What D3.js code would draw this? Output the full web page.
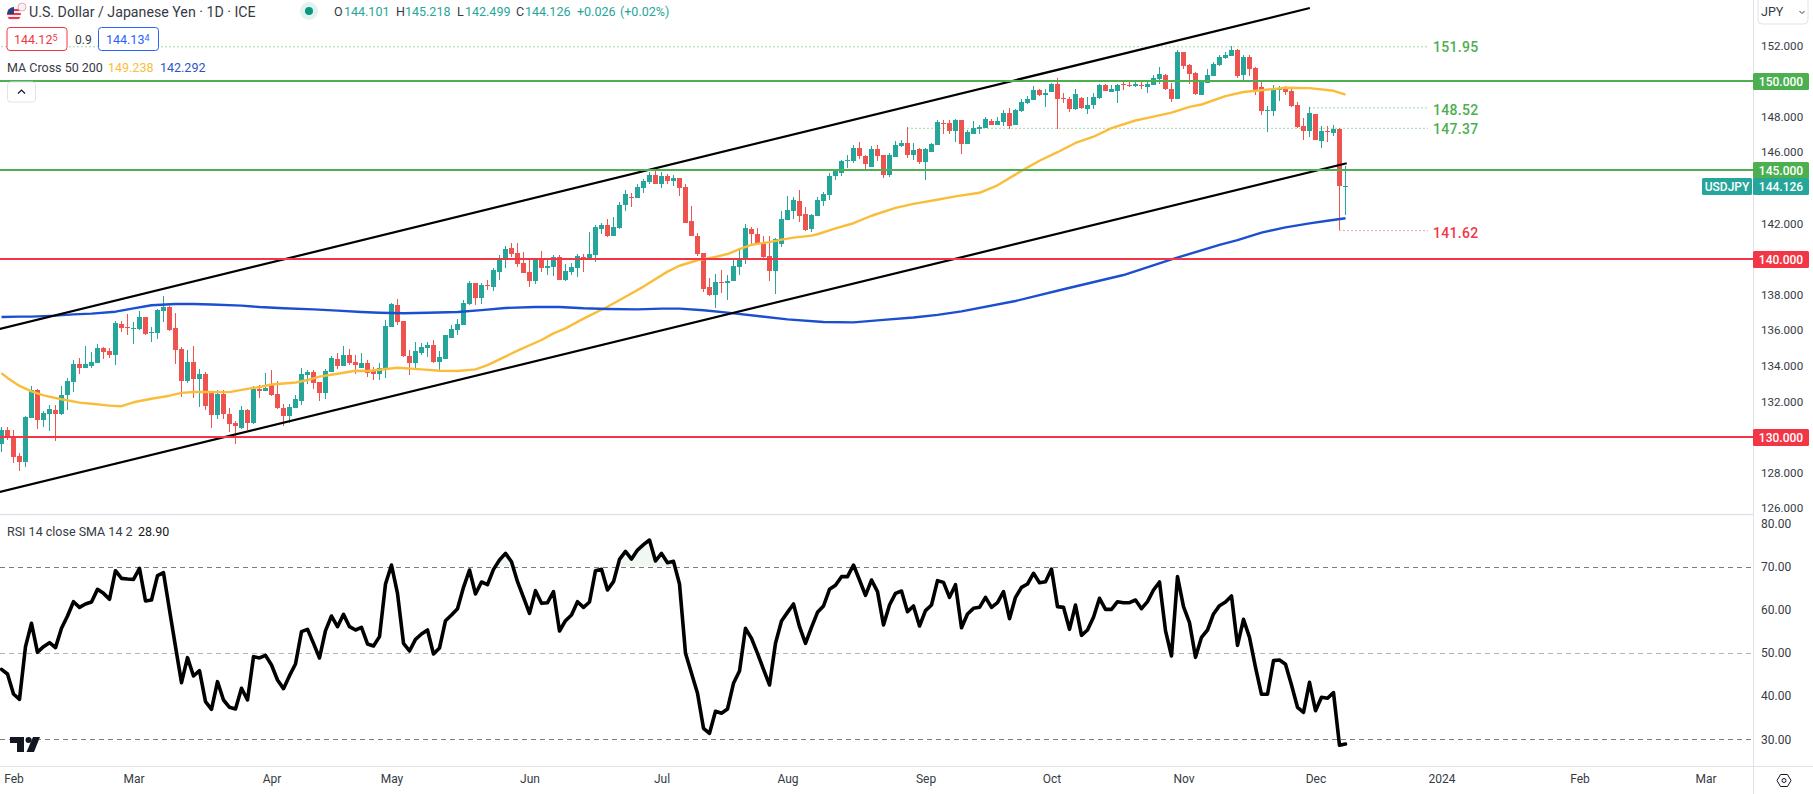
<!DOCTYPE html>
<html>
<head>
<meta charset="utf-8">
<title>USDJPY</title>
<script src="https://cdn.jsdelivr.net/npm/d3@7"></script>
<style>
  html, body { margin: 0; padding: 0; background: #fff; overflow: hidden; }
  text { font-family: Roboto, "Open Sans", sans-serif; }
</style>
</head>
<body>
<script>
// USD/JPY daily candles, one entry per trading bar (bar 1 = 30 Jan 2023, bar 225 = 8 Dec 2023)
var opens = [
129.61,130.39,129.98,128.93,128.60,131.07,132.64,130.96,131.29,131.52,
131.29,132.34,133.09,134.10,133.88,133.99,134.16,135.00,134.83,134.61,
136.35,136.18,136.09,136.07,136.74,135.86,135.84,137.08,137.30,136.13,
134.95,133.15,134.21,133.26,133.54,132.59,131.24,132.42,131.29,130.79,
130.51,131.52,130.79,132.70,132.59,132.92,132.42,131.63,131.18,131.63,
132.02,133.48,133.65,133.09,132.47,133.65,134.38,133.99,134.60,134.21,
133.87,134.16,133.71,133.54,133.82,136.18,137.41,136.52,134.55,134.16,
134.72,135.00,135.17,134.21,134.38,135.56,136.01,136.29,137.47,138.65,
137.81,138.54,138.42,139.27,140.00,140.62,140.33,139.77,139.27,138.76,
140.00,139.49,139.55,140.11,138.82,139.27,139.49,140.11,140.00,140.22,
141.68,141.91,141.29,141.74,143.03,143.48,143.43,143.99,144.32,144.72,
144.21,144.66,144.38,144.55,144.05,142.14,141.29,140.34,138.43,137.98,
138.71,138.65,138.77,139.55,140.00,141.69,141.41,140.90,140.17,139.33,
140.84,142.19,142.70,143.26,142.53,141.69,142.42,143.26,143.60,144.66,
144.83,145.53,145.51,146.24,145.79,145.17,146.18,145.84,144.72,145.73,
146.35,146.52,145.84,146.18,145.45,146.01,146.41,147.64,147.64,147.19,
147.81,146.46,147.02,147.31,147.36,147.75,147.53,147.70,148.20,147.53,
148.31,148.76,148.93,149.49,149.23,149.38,149.83,149.04,148.99,148.42,
149.04,148.42,148.65,149.04,149.77,149.38,149.43,149.81,149.79,149.72,
149.79,149.66,149.77,150.11,150.33,149.55,148.99,151.63,150.90,150.45,
149.21,149.88,150.28,150.90,151.29,151.40,151.74,150.33,151.34,150.73,
149.66,148.33,148.31,149.51,149.55,149.43,148.65,147.47,147.19,148.14,
146.62,147.21,147.08,147.30,144.101];

var highs = [
130.56,130.54,130.39,129.08,131.18,132.87,132.70,131.48,131.80,131.80,
132.87,133.32,134.33,134.44,135.11,134.78,135.23,135.08,135.00,136.52,
136.52,136.91,136.46,137.08,136.76,136.18,137.19,137.92,137.36,136.97,
135.06,134.89,135.11,133.82,133.65,132.61,132.64,132.64,131.63,130.90,
131.74,131.57,132.87,132.92,133.60,133.77,133.15,131.86,131.86,132.36,
133.88,133.77,133.77,133.11,133.82,134.55,134.72,135.11,134.94,134.60,
134.72,134.32,133.93,134.16,136.57,137.53,137.75,136.54,134.89,135.33,
135.28,135.33,135.45,134.83,135.75,136.29,136.63,137.69,138.76,138.67,
138.65,138.82,139.49,140.22,140.73,140.90,140.90,140.39,140.00,140.02,
140.45,140.00,140.22,140.22,139.72,139.77,140.28,140.28,141.51,141.91,
142.02,142.25,142.36,143.20,143.87,143.71,144.21,144.49,144.89,145.05,
144.89,144.77,144.72,144.57,144.22,142.98,141.46,140.36,138.93,139.16,
139.38,139.10,139.95,140.51,141.97,141.80,141.74,141.29,141.29,141.18,
142.70,143.54,143.48,143.88,142.92,142.53,143.48,143.77,144.83,145.06,
145.56,145.84,146.41,146.57,145.84,146.35,146.41,145.86,145.96,146.63,
146.69,147.42,146.52,146.24,146.24,146.52,147.81,147.81,147.81,147.87,
147.83,147.25,147.75,147.53,147.98,147.87,147.98,148.37,148.49,148.43,
148.99,149.15,149.72,149.55,149.55,149.88,150.17,149.32,149.10,149.55,
149.10,149.10,149.32,149.83,149.83,149.77,149.83,149.94,149.94,149.94,
150.00,149.94,150.33,150.78,150.39,149.88,151.74,151.65,150.95,150.50,
150.05,150.67,151.06,151.46,151.63,151.95,151.79,151.46,151.46,150.78,
149.94,148.59,149.77,149.72,149.72,149.66,148.82,147.92,148.54,148.16,
147.47,147.47,147.52,147.37,145.218];

var lows = [
129.16,129.83,128.56,128.11,128.33,131.07,130.45,130.58,130.34,129.78,
131.22,131.52,132.53,133.54,133.88,133.88,134.16,134.38,134.44,134.05,
135.90,135.73,135.23,136.01,135.73,135.34,135.51,136.46,135.96,134.10,
132.25,133.03,132.19,131.69,131.52,130.51,131.01,131.01,130.28,129.61,
130.45,130.39,130.73,132.19,132.59,132.30,131.57,130.62,130.79,131.63,
131.80,132.98,132.70,132.02,132.14,133.65,133.82,133.99,134.04,133.54,
133.87,133.37,133.20,133.20,133.31,136.16,136.29,134.52,133.48,133.87,
134.60,134.49,134.16,133.71,134.36,135.56,135.73,136.29,137.41,137.41,
137.47,138.26,138.20,138.82,139.49,140.11,139.55,139.21,138.42,138.59,
139.27,139.10,139.04,138.82,138.76,139.10,138.99,139.27,140.00,139.83,
141.40,141.23,141.29,141.68,142.69,142.92,143.43,143.71,144.21,144.21,
143.99,144.21,144.10,143.54,142.00,141.28,140.17,138.15,137.92,137.25,
138.09,137.70,138.77,139.10,139.72,140.73,140.79,140.00,138.77,138.04,
140.68,142.19,142.25,142.08,141.57,141.52,142.42,142.98,143.32,144.44,
144.66,145.11,145.40,145.62,144.95,145.17,145.51,144.55,144.61,145.73,
146.29,145.68,145.56,145.34,144.44,146.01,146.41,147.02,147.02,146.57,
145.90,146.46,147.02,147.02,147.36,147.53,147.53,147.47,147.31,147.53,
148.25,148.70,148.93,149.15,148.54,149.38,147.30,148.76,148.25,148.37,
148.42,148.14,148.42,148.99,149.43,149.38,148.76,149.49,149.66,149.66,
149.55,149.32,149.77,149.83,149.49,148.82,148.99,150.67,149.83,149.21,
149.21,149.88,150.28,150.84,151.23,151.40,150.17,150.05,150.28,149.21,
148.09,147.13,148.03,148.87,149.21,148.54,147.36,146.68,146.85,146.66,
146.23,146.57,146.91,141.62,142.499];

var closes = [
130.39,129.96,128.90,128.60,131.13,132.64,130.96,131.35,131.57,131.29,
132.34,133.15,134.10,133.88,134.10,134.21,135.00,134.78,134.61,136.41,
136.13,136.14,136.13,136.74,135.79,135.90,137.14,137.30,136.01,134.89,
133.15,134.21,133.26,133.54,131.74,131.24,132.42,131.29,130.73,130.62,
131.52,130.79,132.70,132.59,132.75,132.36,131.63,131.18,131.69,132.14,
133.54,133.65,133.03,132.47,133.71,134.44,133.99,134.60,134.16,134.04,
134.16,133.59,133.54,133.87,136.23,137.47,136.46,134.55,134.16,134.83,
135.05,135.17,134.21,134.49,135.73,136.07,136.35,137.53,138.65,137.81,
138.54,138.50,139.38,140.00,140.56,140.28,139.72,139.21,138.76,140.00,
139.49,139.60,140.11,138.82,139.32,139.55,140.17,140.00,140.28,141.80,
141.91,141.29,141.80,143.03,143.65,143.44,144.04,144.38,144.72,144.21,
144.66,144.38,144.55,143.99,142.02,141.29,140.28,138.32,137.98,138.71,
138.67,138.77,139.61,140.06,141.74,141.41,140.84,140.11,139.33,141.13,
142.25,142.75,143.32,142.42,141.63,142.47,143.32,143.65,144.66,144.95,
145.51,145.56,146.24,145.79,145.34,146.18,145.79,144.72,145.84,146.41,
146.52,145.84,146.13,145.45,146.18,146.46,147.70,147.60,147.19,147.81,
146.46,147.14,147.36,147.40,147.87,147.53,147.75,148.20,147.47,148.37,
148.82,148.99,149.49,149.21,149.32,149.83,148.99,149.00,148.42,149.27,
148.48,148.65,149.10,149.77,149.43,149.55,149.77,149.77,149.75,149.83,
149.75,149.83,150.17,150.39,149.55,148.99,151.63,150.84,150.39,149.27,
150.00,150.33,150.95,151.34,151.46,151.74,150.28,151.34,150.67,149.49,
148.31,148.37,149.55,149.55,149.38,148.59,147.41,147.19,148.20,146.68,
147.19,147.17,147.30,144.10,144.126];

var ma50Bars = [1,2,4,6,8,11,14,16,19,21,23,26,29,31,33,35,39,41,44,46,50,52,54,57,60,62,67,71,74,77,80,82,84,87,91,93,95,98,102,105,108,112,114,117,120,122,124,126,129,131,133,136,137,140,143,146,150,153,156,160,164,167,171,174,177,180,183,186,190,193,196,199,201,205,208,211,215,219,223,225];
var ma50Values = [133.58,133.32,132.87,132.56,132.34,132.12,131.93,131.87,131.76,131.73,131.95,132.15,132.32,132.48,132.53,132.53,132.52,132.65,132.81,132.95,133.06,133.20,133.39,133.55,133.72,133.71,133.89,133.80,133.72,133.71,133.80,134.04,134.36,134.85,135.45,135.82,136.10,136.65,137.32,137.88,138.45,139.29,139.62,139.93,140.12,140.28,140.55,140.80,140.95,141.09,141.20,141.31,141.39,141.72,142.01,142.43,142.87,143.10,143.27,143.52,143.72,144.14,144.95,145.52,146.00,146.52,146.87,147.35,147.78,148.00,148.22,148.55,148.68,149.15,149.38,149.48,149.62,149.60,149.45,149.238];

var ma200Bars = [1,4,6,10,13,16,20,23,26,30,33,36,41,44,48,53,57,61,64,68,72,77,81,85,90,94,98,102,107,111,114,118,122,127,132,138,143,148,153,157,161,170,178,188,196,204,207,211,215,219,222,225];
var ma200Values = [136.74,136.76,136.76,136.82,136.89,136.93,137.04,137.23,137.40,137.47,137.47,137.44,137.38,137.30,137.23,137.17,137.10,137.02,136.98,136.95,136.98,137.02,137.13,137.25,137.30,137.30,137.23,137.19,137.17,137.21,137.21,137.12,136.99,136.80,136.61,136.46,136.44,136.58,136.71,136.86,137.06,137.64,138.30,139.10,139.98,140.79,141.06,141.48,141.78,142.00,142.15,142.292];

// RSI 14, one per bar
var rsiValues = [
46.22,45.14,40.50,39.27,51.47,56.88,50.16,51.47,52.40,51.24,
55.72,58.57,61.89,60.58,61.35,61.82,64.75,63.82,62.44,69.07,
67.30,67.15,67.07,69.62,62.05,62.28,67.92,68.61,59.96,51.47,
43.13,48.92,44.67,45.91,38.73,36.95,43.36,39.11,37.42,37.03,
41.82,39.11,49.15,48.85,49.46,47.22,43.75,41.74,44.75,47.45,
54.94,55.49,52.24,48.85,55.18,58.57,56.10,58.96,56.10,55.33,
55.95,52.09,51.62,53.79,65.99,70.39,63.82,52.24,50.47,53.17,
54.40,55.33,49.77,51.16,57.49,58.81,60.27,65.22,69.23,63.67,
66.45,65.83,69.38,71.55,73.09,71.16,66.53,62.90,59.19,64.44,
61.51,61.66,64.21,55.10,57.49,58.81,61.89,60.58,61.82,69.07,
69.38,64.60,66.53,71.70,73.55,71.78,73.86,75.10,76.18,71.32,
73.09,70.93,71.24,65.99,49.93,45.29,40.66,32.55,31.39,36.49,
36.03,37.03,42.98,45.83,55.72,53.40,49.93,46.22,42.59,52.24,
57.41,59.42,61.35,56.10,52.24,55.95,59.42,60.89,64.75,65.68,
67.69,67.69,70.39,66.91,63.36,66.91,64.21,56.49,61.12,63.82,
64.37,59.58,60.89,56.26,59.81,61.12,66.76,66.37,62.90,65.83,
55.87,59.04,60.35,60.58,62.90,60.58,61.66,64.21,57.96,62.90,
65.22,65.99,68.46,66.30,66.53,69.46,60.74,60.58,55.49,61.12,
54.10,55.33,58.27,62.67,60.12,60.12,61.89,61.66,61.66,62.28,
60.27,61.89,64.60,66.45,55.18,49.31,67.69,60.74,57.03,49.00,
53.63,55.33,59.04,60.97,61.82,63.21,51.78,57.80,53.63,46.68,
40.43,40.43,48.23,48.38,47.38,42.59,37.42,36.26,43.21,36.64,
39.73,39.50,40.82,28.61,28.90];

// drawn channel, [bar, price] at each end
var upperTrend = [[0.72, 136.07], [219.05, 154.10]];
var lowerTrend = [[0.72, 126.91], [225.2, 145.38]];

// horizontal levels and swing labels
var levelValues = [150, 145, 140, 130];
var levelColors = ["#4caf50", "#4caf50", "#f23645", "#f23645"];
var swingValues = [151.95, 148.52, 147.37, 141.62];
var swingStartBars = [1, 219, 152, 224];
var swingColors = ["#4caf50", "#4caf50", "#4caf50", "#f23645"];

var priceTicks = [152, 148, 146, 142, 138, 136, 134, 132, 128, 126];
var rsiTicks = [80, 70, 60, 50, 40, 30];
var rsiGuides = [70, 50, 30];
var timeBars = [3, 23, 46, 66, 89, 111, 132, 155, 176, 198, 220, 241, 264, 285];
var timeLabels = ["Feb", "Mar", "Apr", "May", "Jun", "Jul", "Aug", "Sep", "Oct", "Nov", "Dec", "2024", "Feb", "Mar"];

var colors = {
    "up": "#26a69a",
    "down": "#ef5350",
    "ma50": "#f9bd3a",
    "ma200": "#1c4fd0",
    "border": "#e0e3eb",
    "text": "#363a45"
};
var size = { "width": 1813, "height": 794, "paneRight": 1753, "priceBottom": 514, "rsiBottom": 766 };

var svg = d3.select("body").append("svg")
    .attr("width", size.width)
    .attr("height", size.height)
    .style("display", "block");

svg.append("rect").attr("width", size.width).attr("height", size.height).attr("fill", "#fff");

var x = d3.scaleLinear().domain([1, 225]).range([1.5, 1345.5]);
var yPrice = d3.scaleLinear().domain([150, 130]).range([81, 437]);
var yRsi = d3.scaleLinear().domain([70, 30]).range([566.7, 739.3]);

var bars = closes.map(function(c, i) {
    return { bar: i + 1, o: opens[i], h: highs[i], l: lows[i], c: c };
});

//clip everything in the price pane so it stays left of the axis
svg.append("clipPath").attr("id", "priceClip").append("rect")
    .attr("width", size.paneRight).attr("height", size.priceBottom);
var pricePane = svg.append("g").attr("clip-path", "url(#priceClip)");

//candles
var candle = pricePane.append("g").selectAll("g").data(bars).enter().append("g")
    .attr("fill", function(d) { return d.c >= d.o ? colors.up : colors.down; });
candle.append("rect")
    .attr("x", function(d) { return x(d.bar) - 0.5; })
    .attr("width", 1)
    .attr("y", function(d) { return yPrice(d.h); })
    .attr("height", function(d) { return yPrice(d.l) - yPrice(d.h); })
    .attr("shape-rendering", "crispEdges");
candle.append("rect")
    .attr("x", function(d) { return x(d.bar) - 2.5; })
    .attr("width", 5)
    .attr("y", function(d) { return yPrice(Math.max(d.o, d.c)); })
    .attr("height", function(d) { return Math.max(1, Math.abs(yPrice(d.o) - yPrice(d.c))); })
    .attr("shape-rendering", "crispEdges");

//swing high / low dotted lines
pricePane.append("g").selectAll("line").data(swingValues).enter().append("line")
    .attr("x1", function(d, i) { return x(swingStartBars[i]); })
    .attr("x2", 1428)
    .attr("y1", function(d) { return yPrice(d) + 0.5; })
    .attr("y2", function(d) { return yPrice(d) + 0.5; })
    .attr("stroke", function(d, i) { return swingColors[i]; })
    .attr("stroke-width", 1)
    .attr("stroke-dasharray", "1,3");

//moving averages
var maLine = d3.line()
    .x(function(d) { return x(d[0]); })
    .y(function(d) { return yPrice(d[1]); });
pricePane.append("path")
    .attr("d", maLine(d3.zip(ma50Bars, ma50Values)))
    .attr("fill", "none").attr("stroke", colors.ma50).attr("stroke-width", 2.4).attr("stroke-linejoin", "round");
pricePane.append("path")
    .attr("d", maLine(d3.zip(ma200Bars, ma200Values)))
    .attr("fill", "none").attr("stroke", colors.ma200).attr("stroke-width", 2.4).attr("stroke-linejoin", "round");

//channel
[upperTrend, lowerTrend].forEach(function(t) {
    pricePane.append("path")
        .attr("d", maLine(t))
        .attr("fill", "none").attr("stroke", "#000").attr("stroke-width", 2.2);
});

//horizontal levels
pricePane.append("g").selectAll("line").data(levelValues).enter().append("line")
    .attr("x1", 0).attr("x2", size.paneRight)
    .attr("y1", function(d) { return yPrice(d); })
    .attr("y2", function(d) { return yPrice(d); })
    .attr("stroke", function(d, i) { return levelColors[i]; })
    .attr("stroke-width", 2);

//swing labels sit a touch below their line
svg.append("g").selectAll("text").data(swingValues).enter().append("text")
    .attr("x", 1433)
    .attr("y", function(d, i) { return yPrice(d) + [0.5, 2.5, 1, 3][i]; })
    .attr("dy", "0.35em")
    .attr("font-size", 14)
    .attr("font-weight", 500)
    .attr("letter-spacing", "0.3px")
    .attr("fill", function(d, i) { return swingColors[i]; })
    .text(function(d) { return d.toFixed(2); });

//RSI pane
rsiGuides.forEach(function(v) {
    svg.append("line")
        .attr("x1", 0).attr("x2", size.paneRight)
        .attr("y1", Math.round(yRsi(v)) + 0.5).attr("y2", Math.round(yRsi(v)) + 0.5)
        .attr("stroke", v === 50 ? "#b2b5be" : "#787b86")
        .attr("stroke-width", 1)
        .attr("stroke-dasharray", "5,4");
});

svg.append("clipPath").attr("id", "obClip").append("rect")
    .attr("width", size.paneRight).attr("y", size.priceBottom).attr("height", yRsi(70) - size.priceBottom);
svg.append("path")
    .attr("clip-path", "url(#obClip)")
    .attr("d", d3.area()
        .x(function(d, i) { return x(i + 1); })
        .y0(yRsi(70))
        .y1(function(d) { return yRsi(d); })(rsiValues))
    .attr("fill", "#f1f8f1");

svg.append("path")
    .attr("d", d3.line()
        .x(function(d, i) { return x(i + 1); })
        .y(function(d) { return yRsi(d); })(rsiValues))
    .attr("fill", "none").attr("stroke", "#000").attr("stroke-width", 3.6)
    .attr("stroke-linejoin", "round").attr("stroke-linecap", "round");

//tradingview mark
var logo = svg.append("g").attr("fill", "#131722");
logo.append("path").attr("d", "M10 737h14v15h-7v-9h-7z");
logo.append("circle").attr("cx", 28.5).attr("cy", 740).attr("r", 3);
logo.append("path").attr("d", "M33 737h7l-6 15h-7.5z");

//separators
svg.append("line").attr("x1", 0).attr("x2", size.paneRight).attr("y1", size.priceBottom + 0.5).attr("y2", size.priceBottom + 0.5)
    .attr("stroke", colors.border).attr("stroke-width", 1.5);
svg.append("line").attr("x1", 0).attr("x2", size.width).attr("y1", size.rsiBottom + 0.5).attr("y2", size.rsiBottom + 0.5)
    .attr("stroke", colors.border).attr("stroke-width", 1);
svg.append("line").attr("x1", size.paneRight + 0.5).attr("x2", size.paneRight + 0.5).attr("y1", 0).attr("y2", size.height)
    .attr("stroke", colors.border).attr("stroke-width", 1);

//axes
function styleAxis(g) {
    g.select(".domain").remove();
    g.selectAll("text").attr("fill", colors.text).style("font-family", "Roboto, sans-serif");
}
svg.append("g")
    .attr("transform", "translate(" + size.paneRight + ",0)")
    .call(d3.axisRight(yPrice).tickValues(priceTicks).tickSize(0).tickPadding(8).tickFormat(d3.format(".3f")))
    .call(styleAxis)
    .selectAll("text").style("font-size", "11.6px");
svg.append("g")
    .attr("transform", "translate(" + size.paneRight + ",0)")
    .call(d3.axisRight(yRsi).tickValues(rsiTicks).tickSize(0).tickPadding(8).tickFormat(d3.format(".2f")))
    .call(styleAxis)
    .selectAll("text").style("font-size", "12px");
svg.append("g")
    .attr("transform", "translate(0," + size.rsiBottom + ")")
    .call(d3.axisBottom(x).tickValues(timeBars).tickSize(0).tickPadding(8).tickFormat(function(d, i) { return timeLabels[i]; }))
    .call(styleAxis)
    .selectAll("text").style("font-size", "12px");

//price tags on the axis
function tag(x0, w, cy, fill, label) {
    svg.append("rect").attr("x", x0).attr("y", cy - 8.5).attr("width", w).attr("height", 17).attr("rx", 1.5).attr("fill", fill);
    svg.append("text").attr("x", x0 + w / 2).attr("y", cy).attr("dy", "0.35em")
        .attr("text-anchor", "middle").attr("font-size", 12).attr("font-weight", 500).attr("fill", "#fff").text(label);
}
levelValues.forEach(function(v, i) {
    tag(size.paneRight, 56, yPrice(v) + 0.5, levelColors[i], v.toFixed(3));
});
tag(size.paneRight, 56, 186.5, colors.up, closes[closes.length - 1].toFixed(3));
tag(1702, 50, 186.5, colors.up, "USDJPY");

//currency box
svg.append("rect").attr("x", 1758).attr("y", -3).attr("width", 50).attr("height", 27).attr("rx", 4)
    .attr("fill", "#fff").attr("stroke", colors.border);
svg.append("text").attr("x", 1761).attr("y", 12).attr("dy", "0.35em").attr("font-size", 12.5).attr("fill", colors.text).text("JPY");
svg.append("path").attr("d", "M1799.5 11l2.5 2.5 2.5-2.5").attr("fill", "none").attr("stroke", colors.text).attr("stroke-width", 1);

//settings hexagon
svg.append("path").attr("d", "M1777 780.5l3.5-6h7l3.5 6-3.5 6h-7z").attr("fill", "none").attr("stroke", "#131722");
svg.append("circle").attr("cx", 1784).attr("cy", 780.5).attr("r", 2).attr("fill", "none").attr("stroke", "#131722");

//legend text
function label(px, py, str, fill, fs) {
    return svg.append("text").attr("x", px).attr("y", py).attr("dy", "0.35em")
        .attr("font-size", fs || 12.5).attr("fill", fill || colors.text).text(str);
}

//flag
svg.append("clipPath").attr("id", "flagClip").append("circle").attr("cx", 14).attr("cy", 14).attr("r", 7);
var flag = svg.append("g").attr("clip-path", "url(#flagClip)");
flag.append("rect").attr("x", 7).attr("y", 7).attr("width", 14).attr("height", 14).attr("fill", "#f0f3fa");
[9, 13, 17].forEach(function(sy) {
    flag.append("rect").attr("x", 7).attr("y", sy).attr("width", 14).attr("height", 2).attr("fill", "#f23645");
});
flag.append("rect").attr("x", 7).attr("y", 7).attr("width", 7).attr("height", 7).attr("fill", "#2a3f7e");
svg.append("circle").attr("cx", 22).attr("cy", 7).attr("r", 4).attr("fill", "#f0f3fa").attr("stroke", "#f6a9ab").attr("stroke-width", 1);

label(29, 12, "U.S. Dollar / Japanese Yen · 1D · ICE", "#363a45", 14.2);
svg.append("circle").attr("cx", 309).attr("cy", 11).attr("r", 9).attr("fill", "#e3f1ef");
svg.append("circle").attr("cx", 309).attr("cy", 11).attr("r", 4).attr("fill", "#089981");

var ohlcLetters = ["O", "H", "L", "C"];
var ohlcLetterX = [334, 396, 457, 516];
var ohlcValueX = [344, 405, 465, 525];
var lastBar = bars[bars.length - 1];
[lastBar.o, lastBar.h, lastBar.l, lastBar.c].forEach(function(v, i) {
    label(ohlcLetterX[i], 12, ohlcLetters[i]);
    label(ohlcValueX[i], 12, v.toFixed(3), colors.up);
});
label(577, 12, "+0.026", colors.up);
label(620, 12, "(+0.02%)", colors.up);

//bid / ask boxes
svg.append("rect").attr("x", 7).attr("y", 27.5).attr("width", 60).attr("height", 23).attr("rx", 3).attr("fill", "#fff").attr("stroke", "#f23645");
svg.append("rect").attr("x", 98.5).attr("y", 27.5).attr("width", 60).attr("height", 23).attr("rx", 3).attr("fill", "#fff").attr("stroke", "#2962ff");
var bid = label(14, 39.5, "144.12", "#f23645", 12.5);
bid.append("tspan").attr("font-size", 9).attr("dy", "-0.3em").text("5");
label(75, 39.5, "0.9", colors.text, 12);
var ask = label(106, 39.5, "144.13", "#2962ff", 12.5);
ask.append("tspan").attr("font-size", 9).attr("dy", "-0.3em").text("4");

label(7, 68, "MA Cross 50 200");
label(108, 68, "149.238", colors.ma50);
label(160, 68, "142.292", "#2a55c8");

//collapse button
svg.append("rect").attr("x", 7.5).attr("y", 82).attr("width", 28).attr("height", 20).attr("rx", 3).attr("fill", "#fff").attr("stroke", colors.border);
svg.append("path").attr("d", "M18 93.5l3.5-3.5 3.5 3.5").attr("fill", "none").attr("stroke", "#131722").attr("stroke-width", 1.2);

label(7, 532, "RSI 14 close SMA 14 2");
label(138, 532, "28.90", "#131722");
</script>
</body>
</html>
